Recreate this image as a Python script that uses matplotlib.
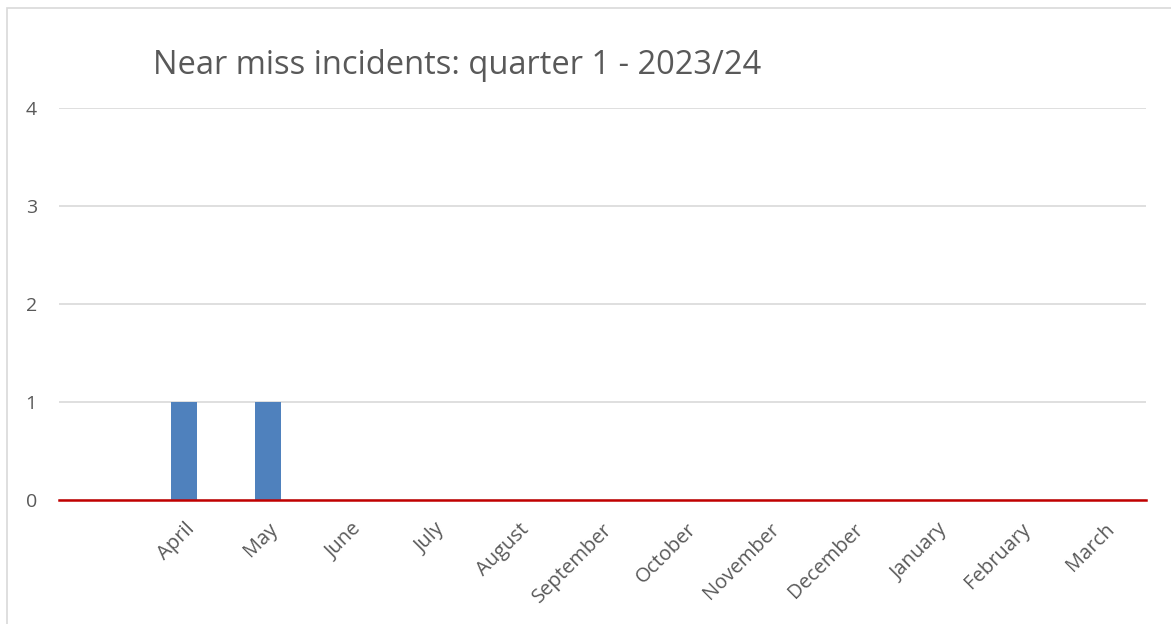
import matplotlib.pyplot as plt
from matplotlib.patches import Rectangle

months = ['', 'April', 'May', 'June', 'July', 'August', 'September', 'October',
          'November', 'December', 'January', 'February', 'March']
incidents = [0, 1, 1, 0, 0, 0, 0, 0, 0, 0, 0, 0, 0]
yticks = [0, 1, 2, 3, 4]

plt.rcParams['font.family'] = ['Open Sans', 'DejaVu Sans']

fig = plt.figure(figsize=(11.71, 6.24), dpi=100)
ax = fig.add_axes([0.0504, 0.1987, 0.9283, 0.6283])

# outer chart border
fig.patches.append(Rectangle((7 / 1171, -0.01), 1.02, 1 - 8 / 624 + 0.01,
                             transform=fig.transFigure, fill=False,
                             edgecolor='#d9d9d9', linewidth=1.2))

x = range(len(months))
ax.bar(x, incidents, width=0.31, color='#4f81bd', zorder=3)

ax.set_xlim(-0.5, len(months) - 0.5)
ax.set_ylim(0, 4)
ax.set_yticks(yticks)
ax.yaxis.grid(True, color='#d9d9d9', linewidth=1.2)
ax.set_axisbelow(True)
ax.tick_params(axis='y', length=0, pad=16, labelsize=14, labelcolor='#595959')
ax.tick_params(axis='x', length=0, pad=14, labelsize=14.5, labelcolor='#595959')
ax.set_xticks(list(x))
ax.set_xticklabels(months, rotation=45, ha='right', rotation_mode='anchor')

for s in ['top', 'right', 'left']:
    ax.spines[s].set_visible(False)
ax.spines['bottom'].set_color('#c00000')
ax.spines['bottom'].set_linewidth(1.8)
ax.spines['bottom'].set_zorder(4)

fig.text(153 / 1171, 1 - 66 / 624, 'Near miss incidents: quarter 1 - 2023/24',
         fontsize=23.5, color='#595959', va='center', ha='left')

fig.savefig('out.png', dpi=100)
